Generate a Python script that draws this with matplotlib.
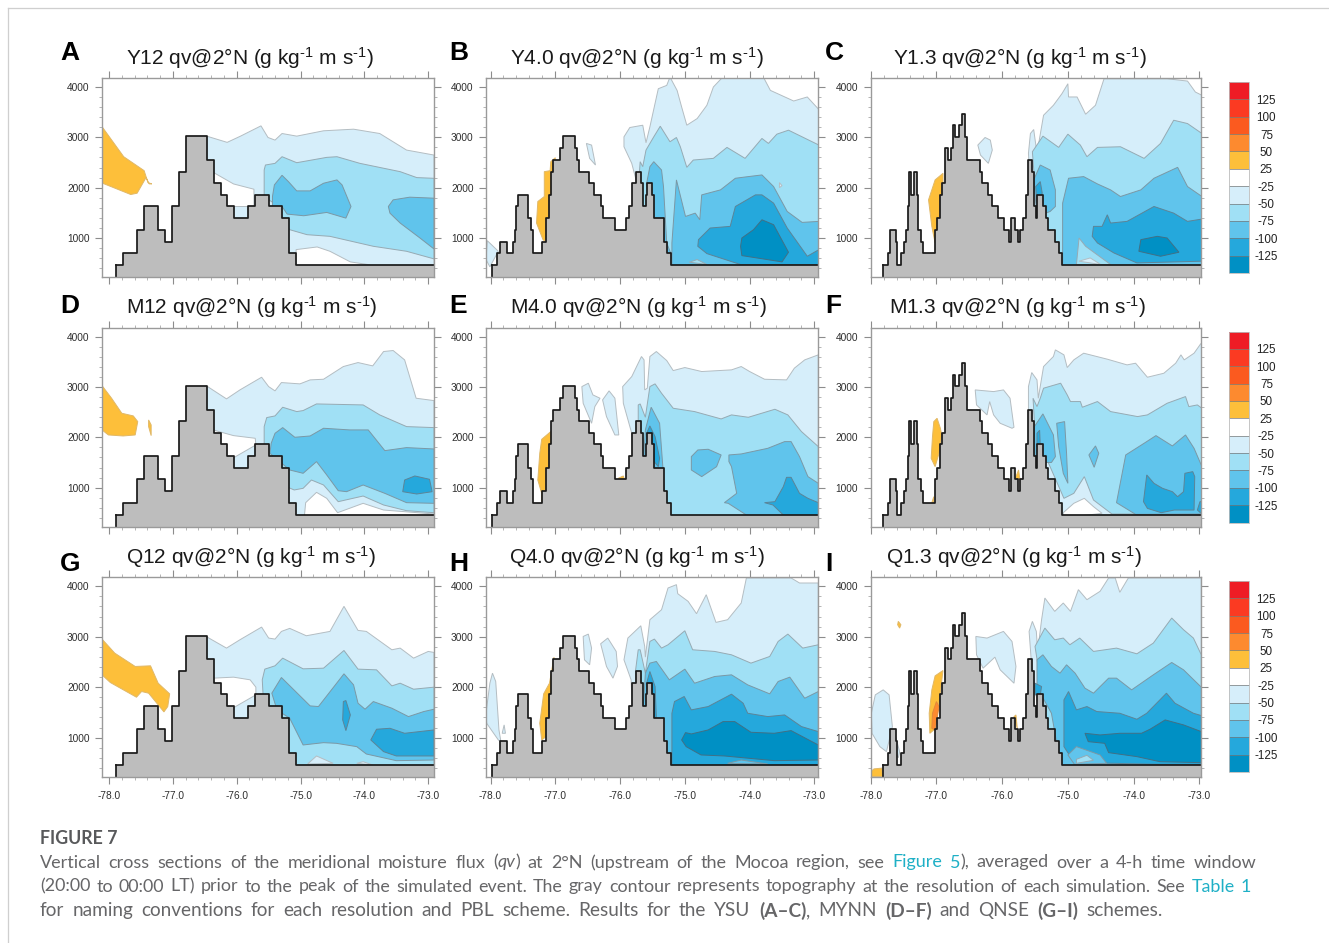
import matplotlib
matplotlib.use("Agg")
import matplotlib.pyplot as plt
import matplotlib as mpl
from matplotlib.colors import ListedColormap, BoundaryNorm
from matplotlib.lines import Line2D

plt.rcParams['font.family'] = ['Liberation Sans', 'DejaVu Sans']
plt.rcParams['mathtext.fontset'] = 'custom'
plt.rcParams['mathtext.rm'] = 'Liberation Sans'
plt.rcParams['mathtext.default'] = 'regular'

W, H = 1329, 943

# ---------- topography (lon of step edge, height) ----------
TOPO12_LON = [-77.89,-77.78,-77.56,-77.45,-77.23,-77.125,-77.02,-76.91,-76.80,-76.47,-76.36,-76.25,-76.15,-76.04,-75.83,-75.71,-75.49,-75.29,-75.18,-75.07,-72.8]
TOPO12_HGT = [466,700,1165,1626,1165,927,1626,2318,3024,2550,2088,1857,1626,1395,1626,1857,1626,1395,700,466,466]
TOPO4_LON = [-77.97,-77.90,-77.86,-77.75,-77.66,-77.63,-77.60,-77.57,-77.42,-77.38,-77.35,-77.21,-77.14,-77.10,-77.07,-77.03,-76.92,-76.88,-76.70,-76.66,-76.63,-76.48,-76.40,-76.29,-76.26,-76.08,-75.91,-75.87,-75.82,-75.76,-75.68,-75.65,-75.60,-75.58,-75.50,-75.47,-75.32,-75.28,-75.21,-72.8]
TOPO4_HGT = [466,700,927,700,927,1165,1626,1857,1395,1165,700,927,1395,1857,2318,2550,2780,3024,2780,2550,2318,2088,1857,1626,1395,1165,1395,1626,2088,2318,2088,1626,1857,2088,1857,1395,927,700,466,466]
TOPO13_LON = [-77.82,-77.73,-77.70,-77.62,-77.60,-77.54,-77.50,-77.46,-77.44,-77.42,-77.41,-77.38,-77.34,-77.30,-77.28,-77.24,-77.21,-77.02,-76.99,-76.95,-76.92,-76.87,-76.83,-76.78,-76.75,-76.71,-76.66,-76.61,-76.57,-76.54,-76.34,-76.30,-76.21,-76.16,-76.06,-75.97,-75.90,-75.86,-75.81,-75.76,-75.73,-75.68,-75.64,-75.61,-75.55,-75.51,-75.49,-75.47,-75.38,-75.33,-75.31,-75.19,-75.14,-75.09,-72.8]
TOPO13_HGT = [466,700,1165,927,466,700,927,1165,1626,2088,2318,1857,2318,1857,1165,927,700,1165,1395,1857,2088,2780,2550,2780,3240,3010,3240,3470,3010,2550,2318,2088,1857,1626,1395,1165,927,1395,1165,927,1165,1395,1857,2550,2318,1626,1400,1857,1626,1395,1165,927,700,466,466]

# ---------- filled contour bands: (level, lons, heights), painted in order ----------
# level: 'w' white, 1..5 = -25..-125 bands, 'o' +25 band, 'r' +50 band
A_LAYERS = [
 ('o',[-78.1,-77.77,-77.45,-77.39,-77.33,-77.37,-77.42,-77.56,-77.66,-78.1],[3195,2615,2338,2100,2075,2075,2200,1890,1864,2088]),
 (1,[-76.47,-76.15,-75.94,-75.62,-75.51,-75.40,-75.29,-75.06,-74.64,-74.17,-73.76,-73.34,-72.91,-72.91,-76.47],[3024,2900,3024,3228,2997,2945,3076,3024,3130,3162,3076,2747,2648,300,300]),
 ('w',[-76.36,-76.05,-75.73,-75.73,-76.4],[2299,2074,1969,1626,1626],),
 ('w',[-75.07,-74.74,-74.54,-74.22,-73.91,-75.07],[769,822,736,525,466,400]),
 (2,[-75.57,-75.55,-75.40,-75.29,-75.06,-74.59,-74.43,-74.07,-73.44,-73.18,-72.91,-72.91,-73.34,-73.86,-74.54,-74.90,-75.17,-75.42,-75.57],[2351,2450,2483,2615,2496,2602,2615,2483,2318,2200,2186,585,736,835,1033,1066,1165,1692,1824]),
 (3,[-75.44,-75.41,-75.29,-75.19,-75.06,-74.85,-74.64,-74.43,-74.35,-74.21,-74.29,-74.59,-74.95,-75.21,-75.29,-75.44],[1824,2055,2246,2120,1936,1936,2088,2154,2055,1626,1395,1508,1442,1475,1626,1626]),
 (3,[-73.625,-73.55,-73.29,-72.91,-72.91,-73.13,-73.44,-73.6],[1626,1758,1811,1791,782,1000,1297,1494]),
]
B_LAYERS = [
 (1,[-78.05,-77.88,-78.01,-78.07],[947,736,427,572]),
 ('o',[-77.0,-77.07,-77.08,-77.17,-77.17,-77.27,-77.29,-77.19,-77.12,-77.03],[2595,2516,2338,2318,1824,1725,1297,967,900,2154]),
 (1,[-76.52,-76.44,-76.38,-76.47],[2879,2846,2450,2582]),
 (1,[-75.94,-75.85,-75.65,-75.60,-75.54,-75.41,-75.28,-75.23,-75.12,-75.05,-74.97,-74.81,-74.66,-74.56,-74.43,-73.78,-73.68,-73.32,-73.11,-72.93,-72.93,-75.5,-75.74,-75.82,-75.94],[3010,3195,3241,2892,3208,3966,4032,4197,3933,3604,3241,3373,3637,4000,4177,4177,3933,3722,3802,3551,300,300,2088,2483,2813]),
 (2,[-75.69,-75.65,-75.60,-75.48,-75.38,-75.23,-75.13,-75.07,-74.97,-74.87,-74.56,-74.35,-74.07,-73.81,-73.71,-73.58,-73.40,-73.19,-72.93,-72.93,-75.5,-75.72],[2516,2417,2747,3010,3221,2912,2997,2813,2404,2549,2582,2800,2582,2978,2879,3063,3142,3010,2846,300,300,1956]),
 (1,[-73.54,-73.5,-73.54],[2100,2040,2000]),
 (3,[-75.59,-75.54,-75.48,-75.36,-75.33,-75.28,-75.20,-75.28,-75.5],[2088,2417,2516,2351,2022,900,640,300,300]),
 (3,[-75.20,-75.20,-75.13,-74.99,-74.84,-74.77,-74.74,-74.45,-74.22,-74.02,-73.81,-73.63,-73.42,-73.19,-72.93,-72.93,-75.20],[472,901,2154,1428,1494,1362,1857,1956,2187,2220,2253,2022,1527,1310,1330,300,300]),
 (4,[-74.80,-74.79,-74.61,-74.30,-74.22,-73.91,-73.81,-73.63,-73.42,-73.11,-72.93,-72.93,-74.14,-74.66],[835,967,1198,1231,1626,1857,1857,1692,1198,637,769,473,473,690]),
 (5,[-74.14,-74.12,-73.94,-73.81,-73.63,-73.40,-73.50,-73.89,-74.12],[835,1000,1165,1362,1264,717,525,604,650]),
 (2,[-74.93,-74.81,-74.66],[519,572,473]),
]
C_LAYERS = [
 ('o',[-77.02,-77.12,-77.07,-77.02,-76.97,-76.90,-76.90],[2154,1758,1231,900,1231,2088,2285]),
 (1,[-76.37,-76.26,-76.18,-76.15,-76.21,-76.33],[2846,2997,2945,2747,2483,2648]),
 (1,[-75.60,-75.57,-75.52,-75.47,-75.37,-75.22,-75.09,-75.0,-74.99,-74.86,-74.73,-74.58,-74.45,-73.49,-73.18,-73.06,-72.96,-72.96,-75.5],[2681,3076,3155,2681,3439,3637,3868,4065,3802,3802,3459,3637,4164,4164,4118,3900,3835,300,300]),
 (2,[-75.54,-75.38,-75.14,-75.0,-74.81,-74.71,-74.55,-74.20,-73.84,-73.59,-73.39,-73.18,-72.96,-72.96,-75.4],[2714,3024,2800,3063,2846,2615,2800,2813,2582,2879,3340,3274,3076,300,300]),
 (3,[-75.52,-75.42,-75.27,-75.19,-75.19,-75.27,-75.47],[2154,2450,2351,1956,1626,1527,1428]),
 (4,[-75.49,-75.42,-75.39,-75.47],[2022,2121,1890,1692]),
 (3,[-75.08,-75.08,-74.99,-74.76,-74.55,-74.35,-74.20,-73.89,-73.69,-73.33,-73.18,-72.96,-72.96,-75.08],[473,1692,2187,2220,2074,1956,1824,1956,2187,2404,2022,1824,300,300]),
 (2,[-74.87,-74.83,-74.73,-74.35],[473,1000,835,473]),
 (1,[-74.83,-74.66,-74.50],[539,604,473]),
 (4,[-74.63,-74.61,-74.48,-74.40,-74.35,-74.10,-73.69,-73.39,-73.18,-72.96,-72.96,-73.95,-74.30,-74.55],[1033,1231,1231,1461,1297,1330,1626,1494,1330,1376,539,505,703,901]),
 (5,[-73.92,-73.89,-73.64,-73.49,-73.31,-73.59],[736,967,1033,1000,717,637]),
]
D_LAYERS = [
 ('o',[-78.11,-77.96,-77.80,-77.62,-77.55,-77.59,-77.78,-78.01,-78.11],[3026,2775,2477,2424,2311,2046,2026,2046,2146]),
 ('o',[-77.38,-77.34,-77.34,-77.38],[2344,2245,2033,2212]),
 (1,[-76.48,-76.16,-75.95,-75.61,-75.5,-75.40,-75.30,-75.01,-74.85,-74.64,-74.33,-74.1,-73.87,-73.70,-73.55,-73.37,-73.19,-72.91,-72.91,-76.48],[3026,2762,2940,3192,3006,2921,3086,3060,3139,3152,3404,3483,3417,3702,3722,3536,2775,2728,300,300]),
 ('w',[-76.37,-76.05,-75.71,-75.70,-76.2],[2146,2033,1980,1848,1483]),
 ('w',[-74.92,-74.75,-74.59,-74.42,-74.02,-73.70,-72.91,-72.91,-74.95],[702,907,788,503,689,556,477,300,300]),
 (2,[-75.57,-75.53,-75.40,-75.28,-75.06,-74.96,-74.75,-74.02,-73.76,-73.34,-72.91,-72.91,-73.34,-73.70,-74.02,-74.41,-74.64,-74.83,-74.96,-75.10,-75.22,-75.53,-75.57],[2212,2391,2424,2596,2510,2530,2662,2642,2444,2212,2192,503,543,656,834,722,1053,1152,987,954,1020,1550,1881]),
 (3,[-75.46,-75.40,-75.28,-75.09,-74.85,-74.64,-74.23,-73.94,-73.68,-73.34,-72.91,-72.91,-73.34,-73.68,-74.02,-74.28,-74.41,-74.59,-74.75,-74.96,-75.17,-75.48],[1881,2079,2192,2000,2026,2179,2146,2146,1735,1795,1768,689,702,887,1053,920,940,1252,1517,1285,1351,1682]),
 (4,[-73.40,-73.37,-73.21,-72.98,-72.94,-73.18],[920,1152,1232,1166,920,874]),
]
E_LAYERS = [
 ('o',[-77.07,-77.21,-77.24,-77.27,-77.21,-77.21,-77.14,-77.06],[2113,1960,1682,1152,887,722,920,1682]),
 ('o',[-76.03,-75.95,-75.93],[1185,1232,1152]),
 (1,[-76.59,-76.49,-76.42,-76.31,-76.39,-76.44,-76.57],[3006,3073,2841,2775,2609,2278,2675]),
 (1,[-76.27,-76.17,-76.08,-76.02,-76.08,-76.21],[2742,2921,2775,2046,2046,2411]),
 (1,[-75.96,-75.82,-75.67,-75.63,-75.62,-75.58,-75.54,-75.44,-75.28,-75.18,-75.0,-74.74,-74.28,-74.13,-74.0,-73.77,-73.43,-73.31,-73.15,-72.94,-72.94,-75.77,-75.82,-75.95],[3006,3205,3603,3536,2940,2974,3603,3702,3523,3324,3384,3305,3338,3404,3305,3152,3139,3371,3536,3636,300,300,2079,2675]),
 (2,[-75.72,-75.72,-75.69,-75.61,-75.54,-75.46,-75.36,-75.18,-74.85,-74.44,-74.28,-74.02,-73.61,-73.41,-73.20,-72.94,-72.94,-75.72],[2113,2642,2662,2397,3006,3060,2874,2576,2510,2364,2444,2397,2556,2444,2113,1815,300,300]),
 (3,[-75.61,-75.52,-75.39,-75.34,-75.31,-75.67],[2146,2596,2278,1417,821,821]),
 (4,[-75.59,-75.54,-75.46,-75.39,-75.41,-75.58],[2079,2225,2013,1583,1417,1682]),
 (3,[-74.90,-74.80,-74.64,-74.44,-74.51,-74.74,-74.90],[1616,1748,1762,1649,1417,1219,1351]),
 (3,[-74.32,-74.13,-73.72,-73.46,-73.36,-73.23,-73.10,-72.94,-72.94,-74.05,-74.33,-74.39,-74.20,-74.28,-74.32],[1649,1669,1781,1914,1914,1616,1219,1086,300,457,689,702,887,1417,1517]),
 (4,[-73.77,-73.61,-73.48,-73.43,-73.36,-73.23,-73.10,-72.94,-72.94,-73.48,-73.64],[702,722,1020,1205,1205,887,788,702,300,457,656]),
]
F_LAYERS = [
 ('o',[-77.04,-76.99,-76.94,-76.92,-76.96,-77.02,-77.08,-77.06],[2311,2377,2179,2046,1682,1417,1583,2013]),
 ('o',[-77.07,-77.04,-77.04],[702,821,702]),
 ('o',[-75.80,-75.75,-75.73],[1185,1351,1166]),
 (1,[-76.41,-76.13,-75.98,-75.88,-75.82,-75.85,-76.03,-76.13,-76.19,-76.23,-76.39],[2940,2907,2940,2775,2199,2179,2278,2444,2709,2444,2642]),
 (1,[-75.60,-75.55,-75.47,-75.45,-75.37,-75.22,-75.19,-75.06,-75.01,-74.91,-74.76,-74.40,-74.10,-73.97,-73.79,-73.54,-73.36,-73.28,-73.23,-73.08,-72.98,-72.96,-72.96,-75.3,-75.6],[3006,3285,3139,2775,3404,3603,3735,3636,3384,3536,3669,3550,3437,3470,3192,3271,3470,3636,3536,3669,3854,3868,300,300,2000]),
 ('w',[-75.07,-74.91,-74.75,-74.61,-74.48,-75.07],[503,689,788,623,490,400]),
 (2,[-75.53,-75.47,-75.42,-75.37,-75.11,-75.01,-74.96,-74.81,-74.78,-74.55,-74.35,-73.94,-73.79,-73.49,-73.21,-73.16,-73.03,-72.96,-72.96,-74.33,-74.61,-74.75,-74.83,-74.91,-75.06,-75.5],[2775,2609,2775,2974,3073,2841,2709,2709,2596,2709,2510,2411,2444,2675,2808,2609,2642,2576,477,477,755,1219,1053,887,788,2100]),
 (3,[-75.51,-75.38,-75.22,-75.19,-75.25,-75.5],[2212,2464,2046,1616,1500,1500]),
 (4,[-75.47,-75.43,-75.42,-75.47],[2079,2140,1815,1815]),
 (3,[-75.17,-75.05,-75.02,-75.0,-75.07,-75.14],[2278,2311,1682,1086,1285,1815]),
 (3,[-74.68,-74.58,-74.53,-74.60],[1649,1828,1682,1404]),
 (3,[-74.26,-74.12,-73.84,-73.66,-73.41,-73.21,-73.08,-72.96,-72.96,-73.97],[702,1649,1881,2033,1828,2046,1781,1417,477,470]),
 (4,[-73.85,-73.80,-73.69,-73.56,-73.41,-73.33,-73.24,-73.22,-73.10,-73.07,-73.08,-73.38,-73.58,-73.79],[722,1252,1086,987,920,821,920,1285,1318,1219,556,556,503,589]),
 (4,[-73.03,-72.99,-72.96,-72.96],[556,722,722,477]),
]
G_LAYERS = [
 ('o',[-78.11,-77.91,-77.59,-77.35,-77.23,-77.05,-77.08,-77.14,-77.38,-77.49,-77.57,-77.98,-78.11],[2954,2675,2411,2424,2079,1868,1616,1510,1881,1914,1801,2093,2245]),
 (1,[-76.48,-76.16,-75.95,-75.61,-75.50,-75.40,-75.30,-75.17,-74.91,-74.54,-74.32,-74.10,-73.97,-73.57,-73.44,-73.23,-73.00,-72.91,-72.91,-76.48],[3006,2775,2940,3192,2974,2954,3106,3166,3020,3106,3603,3126,3106,2742,2775,2576,2709,2689,300,300]),
 ('w',[-76.37,-76.05,-75.79,-75.70,-75.70,-76.2],[2179,2199,2146,2000,1848,1483]),
 (2,[-75.60,-75.56,-75.40,-75.28,-74.96,-74.64,-74.32,-74.10,-73.81,-73.57,-73.44,-73.23,-72.91,-72.91,-75.27,-75.58],[2146,2358,2424,2576,2364,2377,2728,2358,2344,2026,2079,1960,2000,300,300,1682]),
 (3,[-75.45,-75.30,-74.85,-74.72,-74.32,-74.17,-74.10,-73.99,-73.86,-73.57,-73.31,-73.07,-72.91,-72.91,-73.50,-73.97,-74.12,-74.44,-74.64,-74.96,-75.17,-75.37],[1881,2192,1629,1616,2265,2046,1682,1563,1715,1583,1417,1517,1563,556,543,675,821,887,900,854,1384,1550]),
 (4,[-74.33,-74.29,-74.22,-74.29,-74.34],[1715,1735,1450,1139,1351]),
 (4,[-73.90,-73.81,-73.60,-73.37,-72.91,-72.91,-73.50,-73.70],[954,1166,1185,1086,1152,636,636,722]),
 (1,[-74.89,-74.75,-74.49],[477,636,490]),
 (1,[-74.12,-74.02,-73.87],[490,523,457]),
]
H_LAYERS = [
 (1,[-77.97,-77.92,-77.87,-77.84,-77.88,-78.06,-78.07,-78.01],[2278,2113,1152,920,954,1285,1483,2079]),
 (1,[-77.79,-77.77,-77.82],[1252,1086,1086]),
 ('o',[-77.02,-77.09,-77.18,-77.24,-77.21,-77.14,-77.03],[2596,2079,1868,1285,954,1020,2344]),
 (1,[-76.57,-76.49,-76.44,-76.47,-76.55],[3006,3053,2775,2444,2543]),
 (1,[-76.30,-76.19,-76.06,-76.04,-76.11,-76.21],[2861,2974,2709,2411,2179,2411]),
 (1,[-75.94,-75.88,-75.68,-75.62,-75.61,-75.54,-75.36,-75.26,-75.13,-75.11,-74.95,-74.82,-74.67,-74.52,-74.34,-74.13,-74.05,-73.36,-73.23,-72.94,-72.94,-75.77,-75.83],[2543,2974,3218,2808,2596,3338,3536,3967,4033,3854,3702,3457,3834,3285,3338,3669,4166,4166,4066,4066,300,300,2146]),
 (2,[-75.76,-75.72,-75.69,-75.61,-75.54,-75.47,-75.36,-75.26,-75.0,-74.88,-74.54,-74.28,-73.98,-73.69,-73.56,-73.41,-73.18,-72.94,-72.94,-75.72],[2344,2742,2742,2278,2907,2954,2775,2841,3119,2742,2709,2642,2477,2609,2907,3053,2775,2841,300,300]),
 (3,[-75.61,-75.54,-75.44,-75.24,-75.0,-74.85,-74.54,-74.28,-74.03,-73.69,-73.56,-73.38,-73.15,-72.94,-72.94,-75.7],[2278,2477,2510,2146,2358,2079,2212,2245,2046,1868,2113,2199,1781,1914,300,300]),
 (4,[-75.59,-75.54,-75.46,-75.44,-75.55],[2079,2311,2013,1400,1400]),
 (4,[-75.2,-75.20,-75.16,-75.01,-74.90,-74.64,-74.28,-74.10,-74.03,-73.72,-73.46,-73.20,-72.94,-72.94],[300,1483,1715,1815,1550,1616,1861,1682,1483,1417,1450,1219,1119,300]),
 (5,[-75.05,-74.99,-74.90,-74.64,-74.41,-74.23,-73.98,-73.62,-73.36,-72.94,-72.94,-73.62,-74.39,-74.75,-74.98],[954,1099,1073,1152,1318,1318,1106,1086,1139,854,556,543,636,656,821]),
 (3,[-74.34,-74.13,-73.72],[490,556,477]),
]
I_LAYERS = [
 ('o',[-78.0,-77.95,-77.83,-77.82,-78.0],[325,380,395,230,230]),
 (1,[-77.93,-77.81,-77.72,-77.67,-77.76,-77.86,-77.98,-77.99],[1848,1947,1848,1218,722,821,1086,1483]),
 (1,[-77.62,-77.56,-77.58,-77.63],[1020,720,600,720]),
 ('o',[-77.58,-77.54,-77.56,-77.59],[3305,3238,3172,3238]),
 ('o',[-76.90,-77.02,-77.07,-77.11,-77.10,-77.04,-76.96],[2331,2225,1947,1483,1086,1152,1682]),
 ('r',[-77.0,-76.96,-77.02,-77.07,-77.06],[1715,1616,1152,1185,1483]),
 ('o',[-75.82,-75.79,-75.77],[1417,1450,1185]),
 (1,[-76.40,-76.23,-75.98,-75.85,-75.79,-75.82,-76.03,-76.11,-76.29,-76.39],[3006,2974,3106,2907,2411,2079,2344,2596,2377,2642]),
 (1,[-75.59,-75.54,-75.48,-75.46,-75.40,-75.35,-75.20,-75.07,-74.96,-74.84,-74.71,-74.51,-74.38,-74.28,-74.21,-74.08,-72.97,-72.97,-75.3,-75.55],[3106,3305,3106,2709,3338,3768,3503,3669,3503,3934,3735,3901,4166,4166,3881,4166,4166,300,300,2400]),
 (2,[-75.50,-75.35,-75.20,-75.07,-74.97,-74.82,-74.61,-74.26,-73.95,-73.70,-73.42,-73.24,-73.09,-72.97,-72.97,-75.2],[2808,3172,2940,2974,2841,2974,2709,2775,2662,2874,3371,3139,2974,2642,300,300]),
 (3,[-75.47,-75.38,-75.25,-75.12,-75.02,-74.89,-74.74,-74.61,-74.38,-74.26,-74.03,-73.70,-73.42,-73.24,-72.97,-72.97,-75.09,-75.25,-75.47],[2543,2642,2411,2278,2444,2278,1980,1881,2179,2179,1947,2245,2490,2344,2000,300,300,1483,2000]),
 (4,[-75.5,-75.4,-75.42,-75.5],[2079,2013,1848,1848]),
 (4,[-75.06,-75.06,-74.99,-74.87,-74.71,-74.56,-74.21,-73.95,-73.80,-73.50,-73.37,-73.09,-72.97,-72.97,-73.6,-74.3,-74.9],[821,1748,1914,1550,1616,1517,1483,1364,1483,1881,1682,1483,1437,470,470,490,503]),
 (3,[-75.0,-74.87,-74.51,-74.41,-74.9],[656,822,656,490,470]),
 (2,[-74.87,-74.71,-74.61,-74.87],[570,650,550,490]),
 (5,[-74.74,-74.51,-74.21,-73.88,-73.75,-73.52,-73.24,-72.97,-72.97,-73.60,-73.95,-74.38,-74.44,-74.69],[1086,1053,1086,1086,1166,1351,1252,1119,503,523,623,702,887,920]),
]

TITLES = ['Y12','Y4.0','Y1.3','M12','M4.0','M1.3','Q12','Q4.0','Q1.3']
LETTERS = list('ABCDEFGHI')
ALL_LAYERS = [A_LAYERS,B_LAYERS,C_LAYERS,D_LAYERS,E_LAYERS,F_LAYERS,G_LAYERS,H_LAYERS,I_LAYERS]
TOPOS = [(TOPO12_LON,TOPO12_HGT),(TOPO4_LON,TOPO4_HGT),(TOPO13_LON,TOPO13_HGT)]
Y_TICKS = [1000,2000,3000,4000]
X_TICKS = [-78,-77,-76,-75,-74,-73]
CB_BOUNDS = [-150,-125,-100,-75,-50,-25,25,50,75,100,125,150]
CB_COLORS = ['#0090c4','#25a8dc','#60c4ec','#a0e0f5','#d6eefa','#ffffff','#fdbf3a','#fd8a2f','#fb5a1f','#fb3a22','#ee1c25']

FACE = {'w':'#ffffff',1:'#d6eefa',2:'#a0e0f5',3:'#60c4ec',4:'#25a8dc',5:'#0090c4','o':'#fdbf3a','r':'#fd8a2f'}
EDGE = {'w':'#b4bdc2',1:'#b4bdc2',2:'#96aab3',3:'#7b98a5',4:'#5c8497',5:'#417085','o':'#e0b868','r':'#e08a3a'}

COL_X = [(102,434,-78.11,-72.91),(486,818.3,-78.07,-72.94),(870.7,1201.3,-78.0,-72.97)]
ROW_Y = [(78,277),(327.5,526.7),(577.3,776.7)]
TITLE_X = [126,510,893,126,510,889,126,509,886]
TITLE_Y = [58,307,557]
LETTER_X = [60,449,825]
LETTER_Y = [53,306,564]

fig = plt.figure(figsize=(W/100,H/100),dpi=100,facecolor='white')

def px_axes(l,t,r,b):
    return fig.add_axes([l/W,1-b/H,(r-l)/W,(b-t)/H])

for i in range(9):
    row,col = i//3,i%3
    l,r,xa,xb = COL_X[col]
    t,b = ROW_Y[row]
    ax = px_axes(l,t,r,b)
    for lev,lons,hts in ALL_LAYERS[i]:
        ax.fill(lons,hts,facecolor=FACE[lev],edgecolor=EDGE[lev],linewidth=0.7,zorder=2)
    tl,th = TOPOS[col]
    ax.fill_between(tl,225,th,step='post',color='#bdbdbd',linewidth=0,zorder=3)
    ax.step(tl,th,where='post',color='#1a1a1a',linewidth=1.25,zorder=4)
    ax.plot([tl[0],tl[0]],[225,th[0]],color='#1a1a1a',linewidth=1.25,zorder=4)
    ax.set_xlim(xa,xb); ax.set_ylim(225,4179)
    ax.set_xticks(X_TICKS)
    ax.set_xticks([x/5 for x in range(-390,-364)],minor=True)
    ax.set_yticks(Y_TICKS)
    ax.set_yticks([y for y in range(400,4200,200)],minor=True)
    ax.tick_params(which='major',direction='out',length=5,width=0.8,color='#8c8c8c',
                   top=True,right=True,bottom=True,left=True,labelsize=7.3,labelcolor='#2e2e2e',pad=4)
    ax.tick_params(which='minor',direction='out',length=2.4,width=0.6,color='#a8a8a8',
                   top=True,right=True,bottom=True,left=True)
    ax.set_yticklabels([str(v) for v in Y_TICKS])
    if row==2:
        ax.set_xticklabels(['%.1f'%v for v in X_TICKS])
        ax.tick_params(axis='x',which='major',pad=5.5)
    else:
        ax.set_xticklabels([])
    for s in ax.spines.values():
        s.set_color('#9a9a9a'); s.set_linewidth(1.0); s.set_zorder(6)
    fig.text(TITLE_X[i]/W,1-TITLE_Y[row]/H,TITLES[i]+r' qv@2°N (g kg$^{\text{-}1}$ m s$^{\text{-}1}$)',
             fontsize=15.05,color='#1a1a1a',ha='left',va='center')
    fig.text(LETTER_X[col]/W,1-LETTER_Y[row]/H,LETTERS[i],fontsize=19,fontweight='bold',
             color='black',ha='left',va='center')

# colorbars
cmap = ListedColormap(CB_COLORS)
norm = BoundaryNorm(CB_BOUNDS,cmap.N)
for row,off in enumerate([0,249.5,499]):
    cax = px_axes(1229,82+off,1249,273+off)
    cb = mpl.colorbar.Colorbar(cax,cmap=cmap,norm=norm,spacing='uniform',ticks=CB_BOUNDS[1:-1],drawedges=True)
    cb.dividers.set_color('#777777'); cb.dividers.set_linewidth(0.5)
    cb.outline.set_edgecolor('#bbbbbb'); cb.outline.set_linewidth(0.6)
    cb.ax.minorticks_off()
    cax.tick_params(length=0,pad=12.5,labelsize=8.4,labelcolor='#222222')
    cax.set_yticklabels([str(v) for v in CB_BOUNDS[1:-1]])
    for lab in cax.get_yticklabels():
        lab.set_ha('center')

# page frame
fig.add_artist(Line2D([7.5/W,1],[1-7.5/H,1-7.5/H],color='#cfcfcf',linewidth=0.9))
fig.add_artist(Line2D([7.5/W,7.5/W],[0,1-7.5/H],color='#cfcfcf',linewidth=0.9))

# caption: each line is set out to the same right end as in the reference by widening its word gaps
GRAY='#666668'; TEAL='#1fb0c6'
CAP_FONT=['Lato','DejaVu Sans']
fig.text(40/W,1-838/H,'FIGURE 7',fontsize=12.8,fontweight='bold',family=CAP_FONT,color='#58595b',ha='left',va='center')
renderer = fig.canvas.get_renderer()
def width(s,size,**kw):
    a=fig.text(0,0,s+'|',fontsize=size,family=CAP_FONT,**kw)
    b=fig.text(0,0,'|',fontsize=size,family=CAP_FONT,**kw)
    w=a.get_window_extent(renderer).width-b.get_window_extent(renderer).width
    a.remove(); b.remove()
    return w
def line(y,size,end,pieces):
    natural=sum(width(s,size,**{k:v for k,v in kw.items() if k!='color'}) for s,kw in pieces)
    nsp=sum(s.count(' ') for s,kw in pieces)
    extra=(end-40-natural)/max(nsp,1)
    x=40
    for s,kw in pieces:
        k=dict(kw); c=k.pop('color',GRAY)
        words=s.split(' ')
        for j,wd in enumerate(words):
            if wd:
                fig.text(x/W,1-y/H,wd,fontsize=size,family=CAP_FONT,color=c,ha='left',va='center_baseline',**k)
                x+=width(wd,size,**k)
            if j<len(words)-1:
                x+=width(' ',size,**k)+extra
line(861,13.0,1256,[('Vertical cross sections of the meridional moisture flux (',{}),('qv',{'style':'italic'}),
          (') at 2°N (upstream of the Mocoa region, see ',{}),('Figure 5',{'color':TEAL}),
          ('), averaged over a 4-h time window',{})])
line(885,12.9,1251,[('(20:00 to 00:00 LT) prior to the peak of the simulated event. The gray contour represents topography at the resolution of each simulation. See ',{}),
          ('Table 1',{'color':TEAL})])
line(909,13.7,1163,[('for naming conventions for each resolution and PBL scheme. Results for the YSU ',{}),('(A–C)',{'weight':'bold'}),
          (', MYNN ',{}),('(D–F)',{'weight':'bold'}),(' and QNSE ',{}),('(G–I)',{'weight':'bold'}),(' schemes.',{})])

fig.savefig('out.png',dpi=100)
